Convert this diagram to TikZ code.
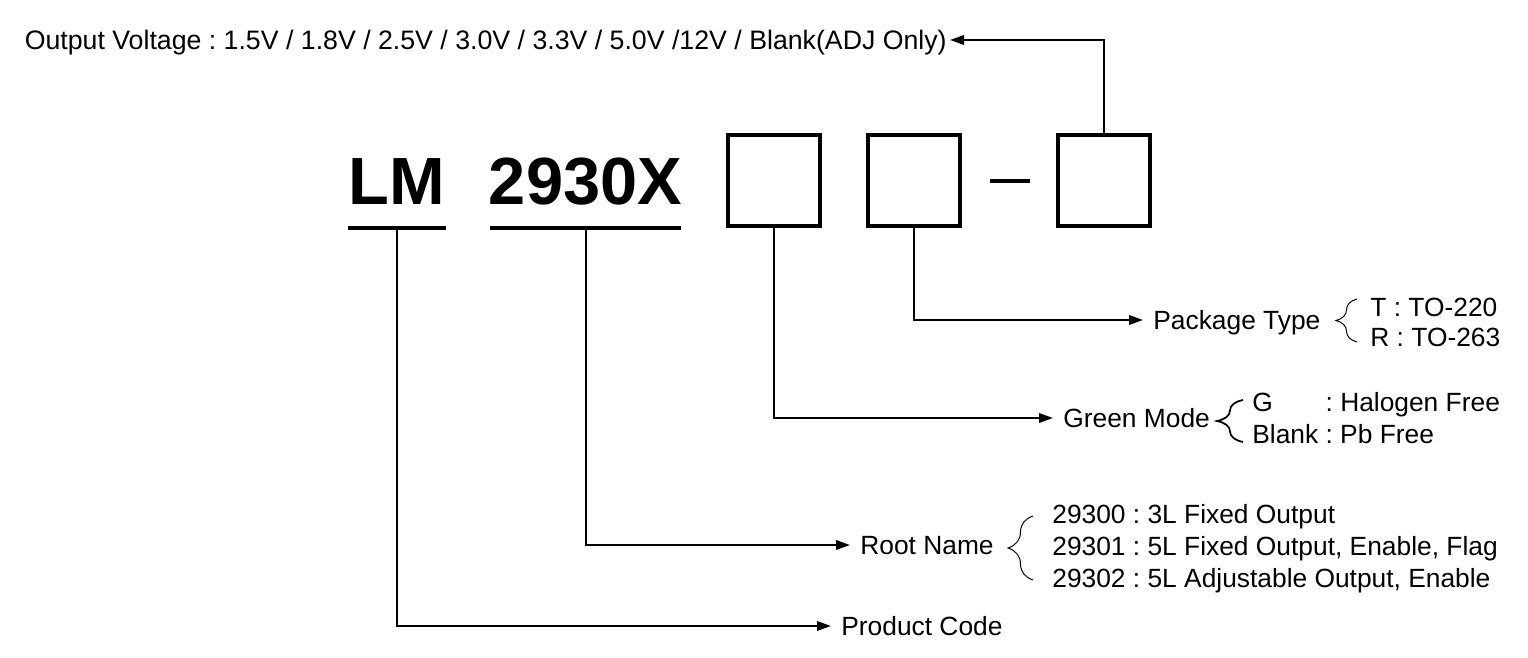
\documentclass[tikz,border=0pt]{standalone}
\usepackage{fontspec}
\setmainfont{Liberation Sans}
\usetikzlibrary{positioning,arrows.meta,decorations.pathreplacing}
\frenchspacing

\begin{document}
\begin{tikzpicture}[x=0.02cm, y=-0.02cm,
  lbl/.style={font=\fontsize{15}{18}\selectfont, inner ysep=0pt, inner xsep=0.2cm,
              text height=0.38cm, text depth=0pt, anchor=west},
  item/.style={lbl, inner xsep=0pt},
  part/.style={font=\bfseries\fontsize{38}{40}\selectfont, inner sep=0pt, anchor=base},
  slot/.style={draw, line width=0.08cm, minimum width=1.84cm, minimum height=1.82cm, inner sep=0pt},
  bar/.style={fill, inner sep=0pt, minimum height=0.08cm},
  ar/.style={-{Triangle[length=0.28cm, width=0.19cm]}, line width=0.04cm},
  brc/.style={decorate, decoration={brace, amplitude=#1}, line width=0.02cm}
]
  \useasboundingbox (0,0) rectangle (1528,658);

  % part number
  \node[part] (lm) at (396.5,205) {LM};
  \node[part] (root) at (585.5,205) {2930X};
  \node[bar, minimum width=1.96cm] (lmbar) at (397,228) {};
  \node[bar, minimum width=3.82cm] (rootbar) at (585.5,228) {};
  \node[slot] (box1) at (774,180.5) {};
  \node[slot] (box2) at (914,180.5) {};
  \node[bar, minimum width=0.8cm] (hyph) at (1010,181) {};
  \node[slot] (box3) at (1103.5,180.5) {};

  % labels
  \node[lbl, font=\fontsize{15.2}{18}\selectfont, inner xsep=0.06cm, anchor=east] (vout) at (950,40)
    {Output Voltage : 1.5V / 1.8V / 2.5V / 3.0V / 3.3V / 5.0V /12V / Blank(ADJ Only)};
  \node[lbl] (pkg) at (1143,320) {Package Type};
  \node[lbl] (green) at (1053,418) {Green Mode};
  \node[lbl] (rname) at (850,545) {Root Name};
  \node[lbl] (pcode) at (831,626) {Product Code};

  % options
  \node[item] (pkgT) at (1370,307) {T : TO-220};
  \node[item] (pkgR) at (1370,337) {R : TO-263};
  \node[item] (grnG) at (1252,402) {\rlap{G}\phantom{Blank} : Halogen Free};
  \node[item] (grnB) at (1252,434) {Blank : Pb Free};
  \node[item] (rn0) at (1052,514) {29300 : 3L Fixed Output};
  \node[item] (rn1) at (1052,546) {29301 : 5L Fixed Output, Enable, Flag};
  \node[item] (rn2) at (1052,578) {29302 : 5L Adjustable Output, Enable};

  \draw[brc=0.42cm] (1357,342) -- (1357,299);
  \draw[brc=0.52cm, line width=0.035cm] (1243,442) -- (1243,400);
  \draw[brc=0.5cm] (1033,580) -- (1033,516);

  % connectors
  \draw[ar] (box3.north) |- (vout.east);
  \draw[ar] (box2.south) |- (pkg.west);
  \draw[ar] (box1.south) |- (green.west);
  \draw[ar] (rootbar.south) |- (rname.west);
  \draw[ar] (lmbar.south) |- (pcode.west);
\end{tikzpicture}
\end{document}
